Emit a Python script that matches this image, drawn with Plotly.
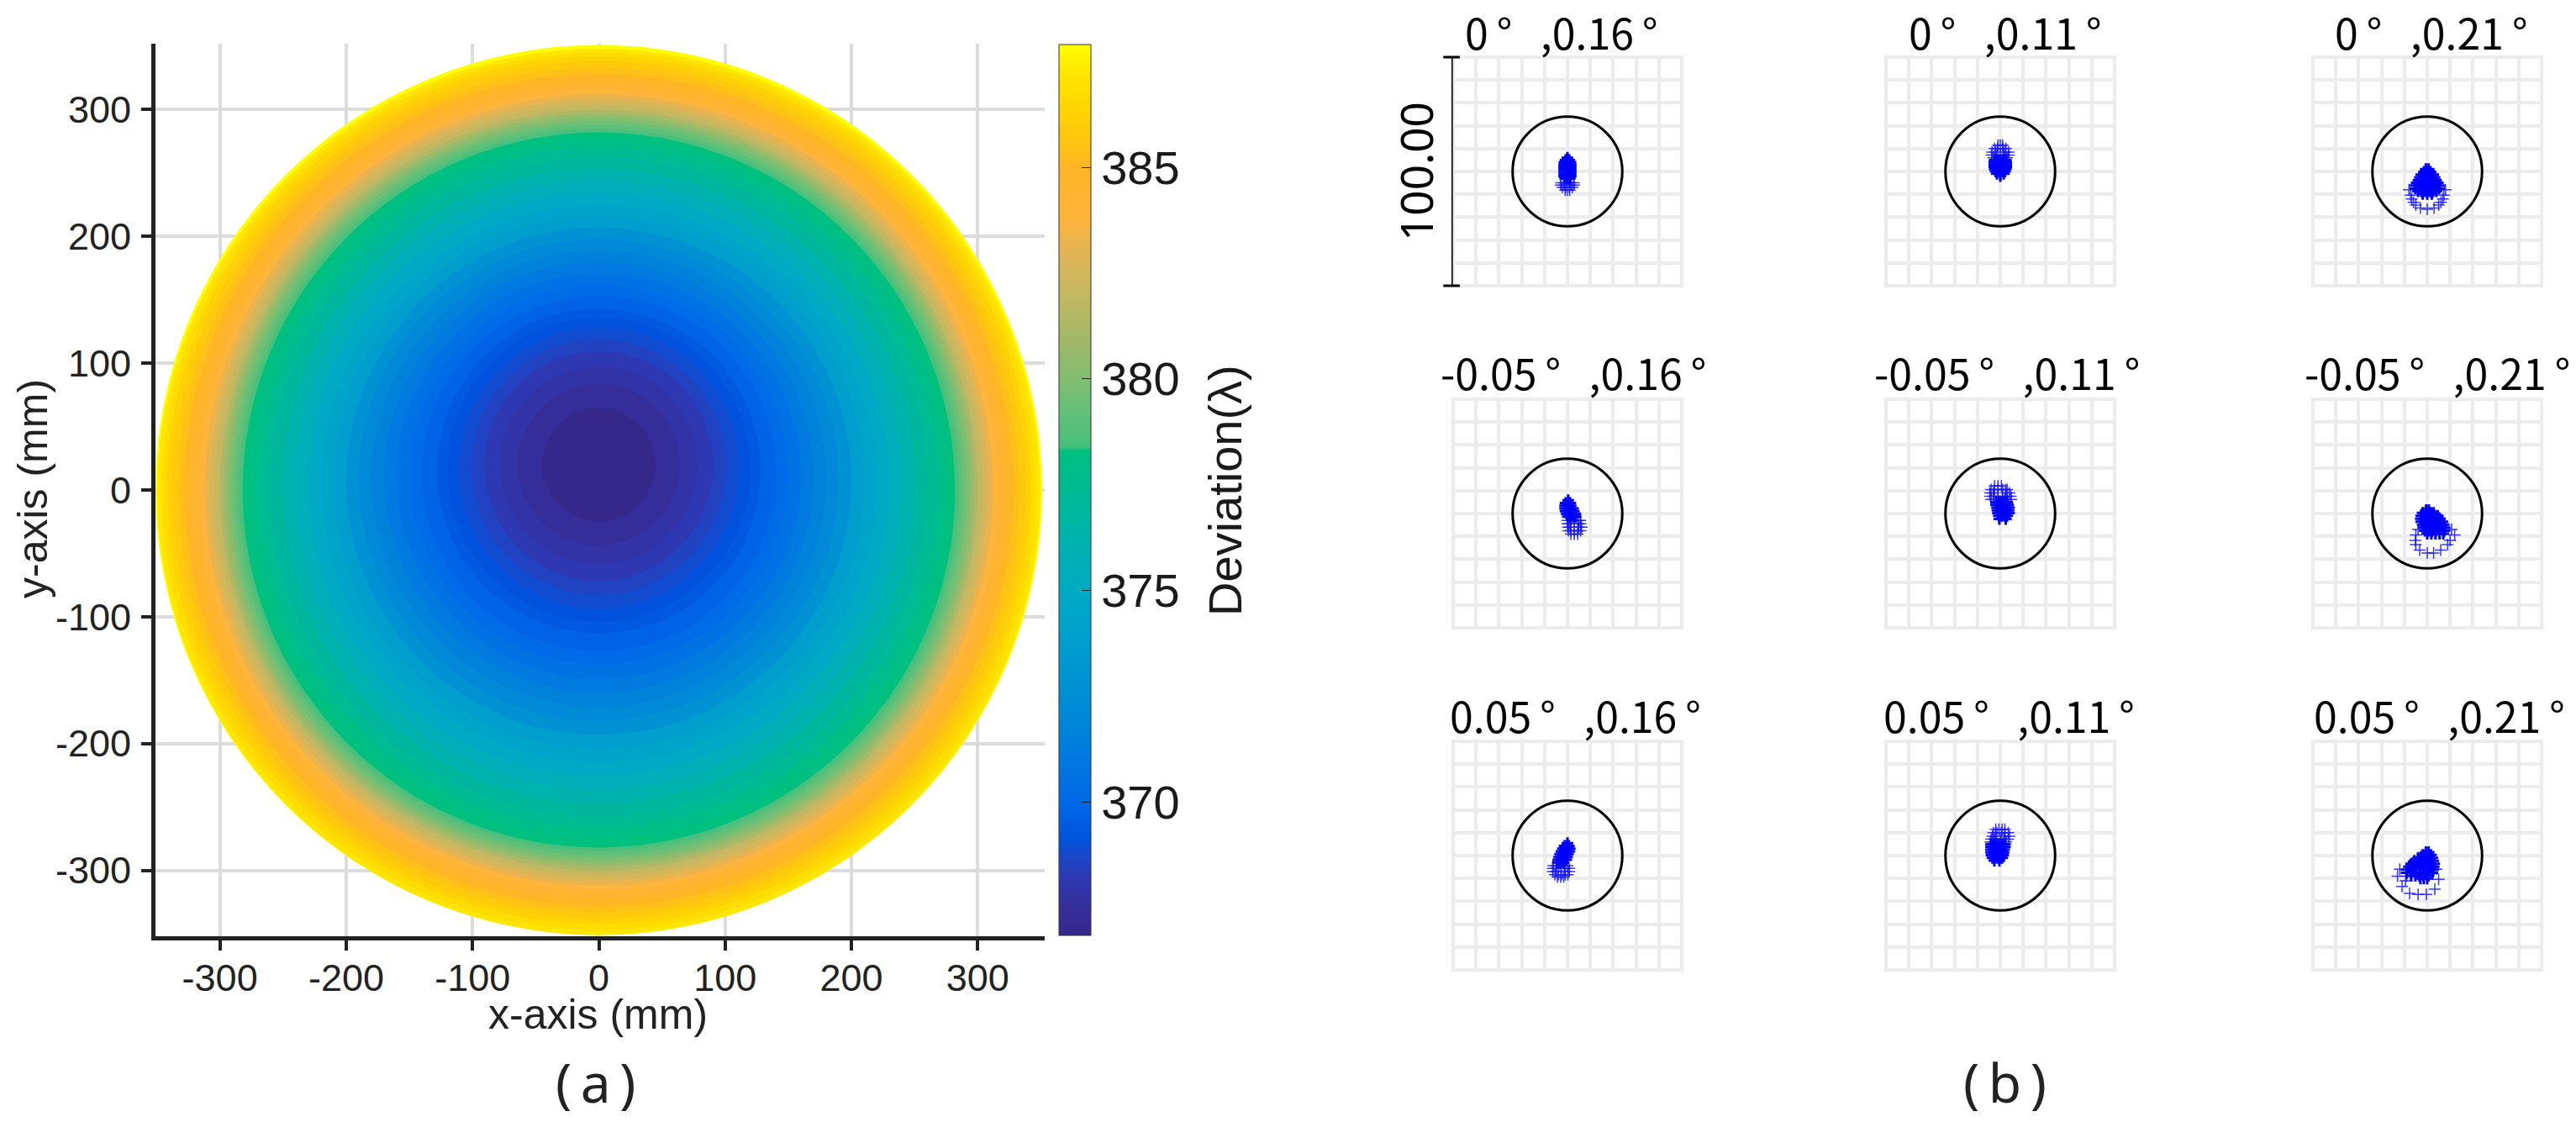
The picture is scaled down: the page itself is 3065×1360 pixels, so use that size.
import plotly.graph_objects as go
from plotly.colors import sample_colorscale

W = 3065
H = 1360

# (a) deviation map: concentric bands, outermost first
ring_radius = [351, 349.5, 346, 342, 338, 333, 328, 322, 316, 312, 308, 304, 300, 297, 294, 291, 288, 285, 282,
               275, 268, 260, 250, 240, 230, 220, 210, 200, 190, 180, 170, 160, 150, 140, 128, 120, 111, 101,
               90.6, 78, 64, 44.8]
ring_center_y = [0, -1.5, -1, 0, 0, 0, 0, 0, 0, 0, 0, 0, 0, 0, 0, 0, 0, 0, 0,
                 1, 2, 2.5, 3, 4, 4.5, 5, 6, 7, 8, 9, 10, 11, 12, 13, 15, 16, 17, 18,
                 19, 19.5, 20, 20]
ring_deviation = [387.9, 387.2, 386.7, 386.2, 385.8, 385.4, 385.0, 384.4, 383.8, 383.2, 382.6, 382.0, 381.3,
                  380.6, 380.0, 379.4, 379.0, 378.5, 378.3, 377.9, 377.4, 376.9, 376.2, 375.6, 375.0, 374.4,
                  373.8, 372.8, 372.1, 371.6, 371.1, 370.6, 370.2, 369.8, 369.4, 369.1, 368.85, 368.55, 368.2,
                  367.85, 367.5, 366.9]

scale_values = [366.85, 367.5, 368.2, 368.7, 369.1, 370, 371, 372, 373, 374, 375, 376, 377, 378, 378.3, 378.4,
                379.3, 380, 381, 382, 383, 383.8, 385, 385.6, 386.5, 387.3, 387.9]
scale_colors = ['#36268a', '#352e9a', '#2d38b2', '#1c46c8', '#0052dc', '#0068e8', '#0078e0', '#0088d8', '#0095d2',
                '#00a0cc', '#00aac4', '#00b2b2', '#00b89c', '#00bf86', '#00c080', '#45c07c', '#68c078', '#82bd70',
                '#a3b968', '#c4b862', '#e2b455', '#ffb43c', '#ffb525', '#ffc510', '#ffd800', '#ffe800', '#ffff00']

axis_ticks = [-300, -200, -100, 0, 100, 200, 300]
axis_tick_labels = ['-300', '-200', '-100', '0', '100', '200', '300']
bar_ticks = [370, 375, 380, 385]

# (b) spot diagrams, each row is [y, x, x, ...] relative to the circle centre
spot1_core = [[6, 0], [5, -0.8, 0.8], [4, -1.3, 0, 1.3], [3, -1.4, 0, 1.4], [2, -1.4, 0, 1.4], [1, -1.4, 0, 1.4],
              [0, -1.4, 0, 1.4], [-1, -1.4, 0, 1.4], [-2, -1.4, 0, 1.4], [-3, -1, 0, 1]]
spot1_rim = [[-5, -2.8, -1.4, 1.4, 2.8], [-6, -2.9, -1.5, 1.5, 2.9], [-7, -2.2, -0.8, 0.8, 2.2], [-8.2, -1, 0, 1]]

spot2_core = [[5, -2.4, -1.2, 0, 1.2, 2.4], [4, -2.6, -1.2, 0, 1.2, 2.6], [3, -2.6, -1.2, 0, 1.2, 2.6],
              [2, -2.6, -1.2, 0, 1.2, 2.6], [1, -2.4, -1.2, 0, 1.2, 2.4], [0, -2, -1, 0, 1, 2],
              [-1, -1.5, 0, 1.5], [-2, 0]]
spot2_rim = [[11.5, -1, 0, 1], [10, -2.5, -1.2, 1.2, 2.5], [8.5, -3.6, -2, 2, 3.6],
             [7.2, -3.8, -1.5, 0, 1.5, 3.8], [6, -3, 3]]

spot3_core = [[1, -0.6, 0.6], [-0.2, -1.4, 0, 1.4], [-1.4, -2.6, -1.3, 0, 1.3, 2.6],
              [-2.6, -3.2, -1.6, 0, 1.6, 3.2], [-3.8, -3.8, -2.5, -1.2, 0, 1.2, 2.5, 3.8],
              [-5, -4.6, -3, -1.5, 0, 1.5, 3, 4.6], [-6.2, -5.2, -3.6, -1.8, 0, 1.8, 3.6, 5.2],
              [-7.4, -5.2, -3.6, -1.8, 0, 1.8, 3.6, 5.2], [-8.6, -4, -2.6, -1.2, 0, 1.2, 2.6, 4],
              [-9.8, -2, 0, 2]]
spot3_rim = [[-8, -8, 8], [-10.4, -7.3, 7.3], [-12, -6.8, 6.8], [-13.5, -6, 6], [-14.7, -5, 5], [-16, -3, 3],
             [-16.5, 0]]

spot4_core = [[5.8, 0.3], [4.6, -0.8, 0.5, 1.2], [3.4, -1, 0.2, 1.4], [2.2, -1, 0.2, 1.4, 2.4],
              [1, -0.8, 0.4, 1.6, 2.8], [-0.2, -0.3, 1, 2.2, 3.4], [-1.4, 0.2, 1.4, 2.6, 3.6]]
spot4_rim = [[-3, 0, 1.5, 3, 4.6, 5.6], [-4.5, 0, 0.8, 4.6, 5.8], [-6, 0.2, 1.2, 5, 6.2],
             [-7.5, 0.4, 1.5, 3, 4.5, 5.8], [-9, 1.5, 3, 4.5]]

spot5_core = [[5, -1.8, -0.6, 0.6, 1.8, 3], [3.8, -1.8, -0.6, 0.6, 1.8, 3.4], [2.6, -1.4, -0.2, 1, 2.4, 3.8],
              [1.4, -1.2, 0, 1.2, 2.4, 3.6], [0.2, -1, 0.2, 1.4, 2.6, 3.8], [-1, -0.6, 0.6, 1.8, 3], [-2.4, -0.4, 2.4]]
spot5_rim = [[12, -2.5, -1, 0.5], [10.5, -4, -2.5, -1, 1, 2.2, 3], [9, -4.5, -3, 2.5, 4],
             [7.5, -4.4, -3, -1, 1, 3, 4.6], [6.2, -4, -2.8, 2, 4.8]]

spot6_core = [[1.5, -0.5, 0.7], [0.3, -2, -0.8, 0.4, 1.6, 2.8], [-1, -2.6, -1.4, -0.2, 1, 2.2, 3.4, 4.6],
              [-2.3, -2.8, -1.4, 0, 1.4, 2.8, 4.2, 5.6], [-3.6, -2.6, -1, 0.6, 2.2, 3.8, 5.2, 6.6],
              [-4.9, -2, -0.4, 1.2, 2.8, 4.4, 5.8, 7.2], [-6.2, -1.6, 0, 1.6, 3.2, 4.8, 6.2, 7.6],
              [-7.5, -1, 0.6, 2.2, 3.8, 5.4, 7.5], [-8.8, 0, 1.8, 3.6, 5.4, 7]]
spot6_rim = [[-7, -4, 10.7], [-9.4, -5, 12], [-11.8, -5.2, 10], [-13.6, -5, 8.9], [-16, -3.3, 5.9], [-17.3, 0, 2.8]]

spot7_core = [[5.4, 0], [4.2, -1.2, 0, 0.6], [3, -2, -1, 0, 1], [1.8, -2.6, -1.4, -0.2, 0.8], [0.6, -3.2, -2, -0.8, 0.2],
              [-0.6, -3.6, -2.4, -1.2, -0.2], [-1.8, -4, -2.8, -1.6, -0.6], [-3, -4.2, -3, -1.8]]
spot7_rim = [[-4.4, -6.2, -4.8, -3.2, -1.4, 0], [-5.6, -6.4, -5, -1, 0.8], [-7, -6.4, -5, -1, 0.8],
             [-8.4, -5.5, -4, -2.5, -1, 0.2], [-9.4, -4.4, -3, -1.6]]

spot8_core = [[5, -4, -2.8, -1.6, -0.4, 0.8, 2], [3.8, -4, -2.8, -1.6, -0.4, 0.8, 2], [2.6, -4, -2.8, -1.6, -0.4, 0.6, 1.6],
              [1.4, -4, -2.8, -1.6, -0.4, 0.6, 1.4], [0.2, -3.8, -2.6, -1.4, -0.2, 1.2], [-1, -3.4, -2.2, -1, 0, 0.8],
              [-2.2, -2.6, -0.4]]
spot8_rim = [[11.5, -2, -0.6, 0.8, 2], [10, -3, -1.5, 0.5, 2, 3.5], [8.5, -3.4, -2, 2, 4],
             [7.2, -4, -2.5, 0, 1.5, 3.5], [6, -4.3, -3, 2.6]]

spot9_core = [[1.5, -0.6, 0.6], [0.3, -2, -0.8, 0.4, 1.6], [-1, -4, -2.8, -1.6, -0.4, 0.8, 2.2],
              [-2.3, -5.6, -4, -2.4, -0.8, 0.8, 2.6], [-3.6, -7, -5.4, -3.8, -2.2, -0.6, 1, 3],
              [-4.9, -8, -6.4, -4.8, -3.2, -1.6, 0, 1.4, 2.8], [-6.2, -9, -7, -5, -3, -1, 0.8, 2.6],
              [-7.5, -9, -7, -5, -3, -1, 0.6, 2.2], [-8.8, -7, -5.2, -3.4, -1.6, 0.5], [-10, -3, -1.5, 0]]
spot9_rim = [[-6, -12, 4], [-9, -13, -9], [-10.4, 5], [-11, -9.5], [-13.5, -11], [-14.7, 3.3], [-16.5, -7.7], [-17, -4, -0.4]]

spot_core = [spot1_core, spot2_core, spot3_core, spot4_core, spot5_core, spot6_core, spot7_core, spot8_core, spot9_core]
spot_rim = [spot1_rim, spot2_rim, spot3_rim, spot4_rim, spot5_rim, spot6_rim, spot7_rim, spot8_rim, spot9_rim]

panel_titles = ['0\u2009°\u00a0\u00a0\u00a0,0.16\u2009°', '0\u2009°\u00a0\u00a0\u00a0,0.11\u2009°', '0\u2009°\u00a0\u00a0\u00a0,0.21\u2009°',
                '-0.05\u2009°\u00a0\u00a0\u00a0,0.16\u2009°', '-0.05\u2009°\u00a0\u00a0\u00a0,0.11\u2009°', '-0.05\u2009°\u00a0\u00a0\u00a0,0.21\u2009°',
                '0.05\u2009°\u00a0\u00a0\u00a0,0.16\u2009°', '0.05\u2009°\u00a0\u00a0\u00a0,0.11\u2009°', '0.05\u2009°\u00a0\u00a0\u00a0,0.21\u2009°']
grid_ticks = [-50, -40, -30, -20, -10, 0, 10, 20, 30, 40, 50]
airy_radius = 24


def px(x):
    return x / W


def py(y):
    return 1 - y / H


def unpack(rows):
    xs = []
    ys = []
    for row in rows:
        for x in row[1:]:
            xs.append(x)
            ys.append(row[0])
    return xs, ys


def label(text, x, y, font, angle=0):
    return dict(text=text, xref='paper', yref='paper', x=px(x), y=py(y), xanchor='center', yanchor='middle',
                textangle=angle, showarrow=False, font=font)


cmin = scale_values[0]
cmax = scale_values[-1]
colorscale = [[(v - cmin) / (cmax - cmin), c] for v, c in zip(scale_values, scale_colors)]
ring_colors = sample_colorscale(colorscale, [(v - cmin) / (cmax - cmin) for v in ring_deviation])

fig = go.Figure()
shapes = []
annotations = []

for r, cy, col in zip(ring_radius, ring_center_y, ring_colors):
    shapes.append(dict(type='circle', xref='x', yref='y', x0=-r, x1=r, y0=cy - r, y1=cy + r,
                       fillcolor=col, line=dict(width=0), layer='between'))

# carries the colour bar
fig.add_trace(go.Scatter(
    x=[None] * len(ring_deviation), y=[None] * len(ring_deviation), mode='markers', showlegend=False,
    marker=dict(color=ring_deviation, colorscale=colorscale, cmin=cmin, cmax=cmax, showscale=True,
                colorbar=dict(x=px(1260), xanchor='left', xpad=0, y=py(1113), yanchor='bottom', ypad=0,
                              len=1060 / H, lenmode='fraction', thickness=38, thicknessmode='pixels',
                              outlinewidth=1, outlinecolor='#333333', ticks='inside', ticklen=11, tickwidth=1,
                              tickcolor='#222222', tickvals=bar_ticks,
                              tickfont=dict(family='Liberation Sans', size=56, color='#1a1a1a'))),
))

axis_font = dict(family='Liberation Sans', size=45, color='#222222')
title_font = dict(family='Liberation Sans', size=50, color='#222222')
layout = dict(
    width=W, height=H, autosize=False, margin=dict(l=0, r=0, t=0, b=0),
    paper_bgcolor='white', plot_bgcolor='white', showlegend=False,
    xaxis=dict(domain=[px(185), px(1243)], range=[-351, 353], tickvals=axis_ticks, ticktext=axis_tick_labels,
               ticks='outside', ticklen=12, tickwidth=4, tickcolor='#222222', showline=True, linewidth=5,
               linecolor='#222222', showgrid=True, gridcolor='#dcdcdc', gridwidth=4, zeroline=False,
               tickfont=axis_font, ticklabelstandoff=-6),
    yaxis=dict(domain=[py(1114), py(52)], range=[-352, 352], tickvals=axis_ticks, ticktext=axis_tick_labels,
               ticks='outside', ticklen=12, tickwidth=4, tickcolor='#222222', showline=True, linewidth=5,
               linecolor='#222222', showgrid=True, gridcolor='#dcdcdc', gridwidth=4, zeroline=False,
               tickfont=axis_font, ticklabelstandoff=3),
)

col_left = [1729, 2244, 2752]
row_top = [68, 475, 882]
title_left = [[1741, 2269, 2776], [1712, 2228, 2740], [1723, 2239, 2751]]
title_base = [60, 465, 873]
panel_size = 272
grid_end = 50.74  # a hair past the edge so the outer grid lines are kept

for i in range(9):
    row = i // 3
    col = i % 3
    k = i + 2
    left = col_left[col]
    top = row_top[row]
    layout['xaxis%d' % k] = dict(domain=[px(left - 2), px(left + panel_size + 2)], range=[-grid_end, grid_end],
                                 anchor='y%d' % k, tickvals=grid_ticks, showticklabels=False, gridcolor='#ececec',
                                 gridwidth=4, zeroline=False, showline=False)
    layout['yaxis%d' % k] = dict(domain=[py(top + panel_size + 2), py(top - 2)], range=[-grid_end, grid_end],
                                 anchor='x%d' % k, tickvals=grid_ticks, showticklabels=False, gridcolor='#ececec',
                                 gridwidth=4, zeroline=False, showline=False)
    shapes.append(dict(type='circle', xref='x%d' % k, yref='y%d' % k, x0=-airy_radius, x1=airy_radius,
                       y0=-airy_radius, y1=airy_radius, line=dict(color='black', width=3), layer='above'))
    rim_x, rim_y = unpack(spot_rim[i])
    core_x, core_y = unpack(spot_core[i])
    fig.add_trace(go.Scatter(x=rim_x, y=rim_y, xaxis='x%d' % k, yaxis='y%d' % k, mode='markers',
                             marker=dict(symbol='cross-thin', size=10, line=dict(color='rgba(20,20,255,0.85)', width=1.5))))
    fig.add_trace(go.Scatter(x=core_x, y=core_y, xaxis='x%d' % k, yaxis='y%d' % k, mode='markers',
                             marker=dict(symbol='cross-thin', size=10, line=dict(color='#0000ff', width=3))))
    annotations.append(dict(text=panel_titles[i], xref='paper', yref='paper', x=px(title_left[row][col]),
                            y=py(title_base[row]), xanchor='left', yanchor='middle', yshift=23, showarrow=False,
                            font=dict(family='Noto Sans CJK SC', size=50, color='black')))

# scale bar next to the first spot diagram
fig.add_trace(go.Scatter(x=[-50.7, -50.7], y=[-50, 50], xaxis='x2', yaxis='y2', mode='lines+markers', cliponaxis=False,
                         line=dict(color='black', width=3),
                         marker=dict(symbol='line-ew', size=14, line=dict(color='black', width=3))))
annotations.append(label('100.00', 1684, 204, dict(family='Noto Sans', size=53, color='black'), -90))
annotations.append(label('x-axis (mm)', 711, 1207, title_font))
annotations.append(label('y-axis (mm)', 39, 582, title_font, -90))
annotations.append(label('Deviation(λ)', 1457, 584, dict(family='Liberation Sans', size=56, color='#1a1a1a'), -90))
annotations.append(label('(\u2009a\u2009)', 709, 1287, dict(family='Noto Sans', size=64, color='#222222')))
annotations.append(label('(\u2009b\u2009)', 2385, 1287, dict(family='Noto Sans', size=64, color='#222222')))

layout['shapes'] = shapes
layout['annotations'] = annotations
fig.update_layout(**layout)

fig.write_html("out.html", config={'displayModeBar': False}, post_script="document.body.style.margin='0'")
